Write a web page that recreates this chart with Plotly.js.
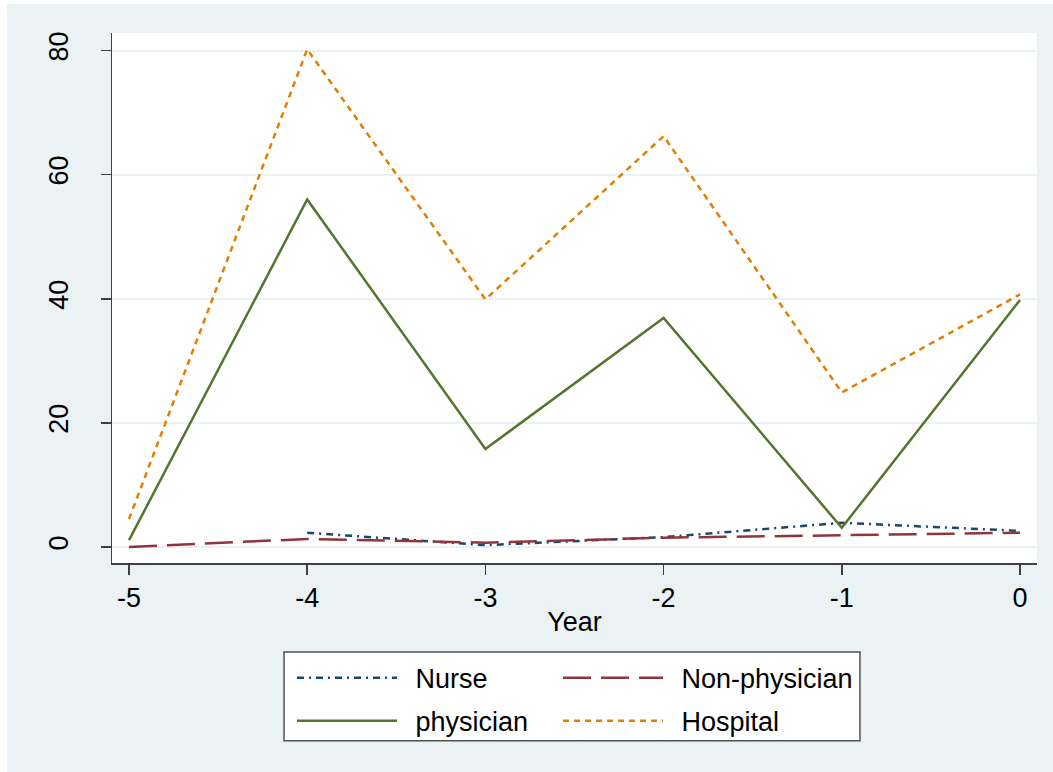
<!DOCTYPE html>
<html>
<head>
<meta charset="utf-8">
<script src="https://cdn.plot.ly/plotly-3.0.1.min.js"></script>
<style>
html, body { margin: 0; padding: 0; background: #ffffff; }
#chart { position: absolute; left: 7px; top: 4px; width: 1046px; height: 768px; }
</style>
</head>
<body>
<div id="chart"></div>
<script>
// Data
const years = [-5, -4, -3, -2, -1, 0];
const nurse = [null, 2.3, 0.3, 1.6, 3.9, 2.6];
const nonPhysician = [0, 1.3, 0.7, 1.5, 1.9, 2.3];
const physician = [1.1, 56.0, 15.8, 36.9, 3.1, 39.8];
const hospital = [4.5, 80.2, 39.9, 66.2, 24.9, 40.7];
const xTicks = [-5, -4, -3, -2, -1, 0];
const yTicks = [0, 20, 40, 60, 80];

const FONT = 'Liberation Sans, Arial, Helvetica, sans-serif';
const SP = '\u2002';

const traces = [
  { x: years, y: nurse, name: SP + 'Nurse', mode: 'lines', legend: 'legend', legendgroup: 'a',
    line: { color: '#1a476f', width: 2.5, dash: '7px,5px,2px,5px' }, connectgaps: false },
  { x: years, y: physician, name: SP + 'physician', mode: 'lines', legend: 'legend', legendgroup: 'b',
    line: { color: '#55752f', width: 2.5 } },
  { x: years, y: nonPhysician, name: SP + 'Non-physician', mode: 'lines', legend: 'legend2', legendgroup: 'c',
    line: { color: '#90353b', width: 2.5, dash: '28px,10px' } },
  { x: years, y: hospital, name: SP + 'Hospital', mode: 'lines', legend: 'legend2', legendgroup: 'd',
    line: { color: '#e37e00', width: 2.5, dash: '6px,5px' } }
];

const legendCommon = {
  orientation: 'v', xanchor: 'left', yanchor: 'top',
  bgcolor: 'rgba(0,0,0,0)', borderwidth: 0,
  font: { family: FONT, size: 27, color: '#000000' },
  itemwidth: 100, tracegroupgap: 5, traceorder: 'grouped',
  itemclick: false, itemdoubleclick: false
};

const layout = {
  width: 1046, height: 768,
  paper_bgcolor: '#eaf2f3', plot_bgcolor: '#ffffff',
  margin: { l: 105, r: 16, t: 28.5, b: 209, pad: 0 },
  font: { family: FONT, size: 27, color: '#000000' },
  showlegend: true,
  xaxis: {
    range: [-5.0954, 0.0954], tickmode: 'array', tickvals: xTicks, ticktext: xTicks.map(String),
    showgrid: false, zeroline: false, showline: true, linecolor: '#404040', linewidth: 1.5,
    ticks: 'outside', ticklen: 10, tickwidth: 1.5, tickcolor: '#404040',
    tickfont: { family: FONT, size: 27, color: '#000000' },
    title: { text: 'Year', font: { family: FONT, size: 27, color: '#000000' }, standoff: 0 }
  },
  yaxis: {
    range: [-2.575, 82.82], tickmode: 'array', tickvals: yTicks, ticktext: yTicks.map(String),
    showgrid: true, gridcolor: '#eaf2f3', gridwidth: 2, zeroline: false,
    showline: true, linecolor: '#404040', linewidth: 1.5,
    ticks: 'outside', ticklen: 10, tickwidth: 1.5, tickcolor: '#404040',
    tickangle: -90, ticklabelstandoff: 22,
    tickfont: { family: FONT, size: 27, color: '#000000' }
  },
  legend: Object.assign({}, legendCommon, { x: 0.1946, y: -0.171 }),
  legend2: Object.assign({}, legendCommon, { x: 0.4822, y: -0.171 }),
  shapes: [
    { type: 'rect', xref: 'paper', yref: 'paper', x0: 0.186, x1: 0.8086, y0: -0.1678, y1: -0.3355,
      line: { color: '#505050', width: 1.5 }, fillcolor: '#ffffff', layer: 'below' }
  ]
};

Plotly.newPlot('chart', traces, layout, { displayModeBar: false, staticPlot: true });
</script>
</body>
</html>
